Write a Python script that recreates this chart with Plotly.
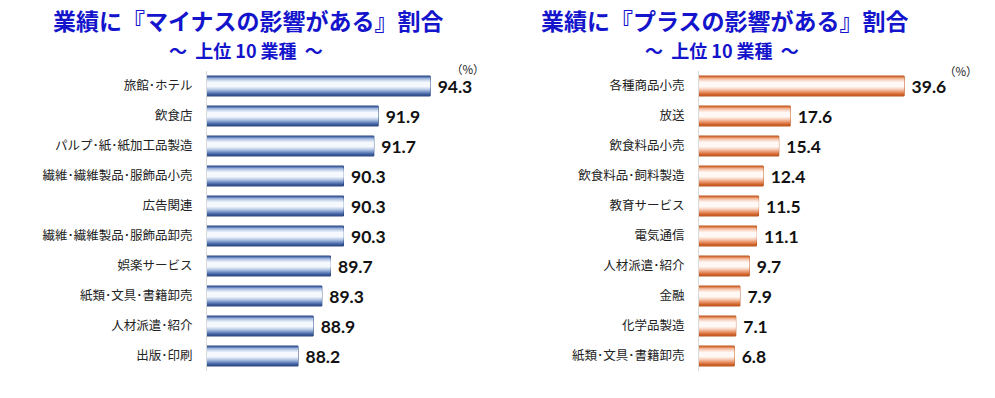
import plotly.graph_objects as go

minus_cats = ["旅館･ホテル", "飲食店", "パルプ･紙･紙加工品製造", "繊維･繊維製品･服飾品小売", "広告関連",
              "繊維･繊維製品･服飾品卸売", "娯楽サービス", "紙類･文具･書籍卸売", "人材派遣･紹介", "出版･印刷"]
minus_vals = [94.3, 91.9, 91.7, 90.3, 90.3, 90.3, 89.7, 89.3, 88.9, 88.2]

plus_cats = ["各種商品小売", "放送", "飲食料品小売", "飲食料品･飼料製造", "教育サービス",
             "電気通信", "人材派遣･紹介", "金融", "化学品製造", "紙類･文具･書籍卸売"]
plus_vals = [39.6, 17.6, 15.4, 12.4, 11.5, 11.1, 9.7, 7.9, 7.1, 6.8]

W, H = 995, 398
fig = go.Figure()

blue_layers = ["#3a5b98", "#6786be", "#9fb4da", "#cfdbef", "#f5f8fd"]
orange_layers = ["#d0622a", "#e48a5c", "#f0b495", "#f9dccd", "#fff8f4"]
widths = [0.667, 0.56, 0.45, 0.34, 0.2]
offs = [0, -0.03, -0.04, -0.05, -0.05]

VAL_FONT = dict(family="Lato, 'Open Sans', sans-serif", size=17.5, color="#111111")

def add_bars(cats, vals, layers, edge, xa, ya):
    for i, (c, w) in enumerate(zip(layers, widths)):
        fig.add_trace(go.Bar(
            y=cats, x=vals, orientation="h",
            width=w,
            offset=-w / 2 + offs[i],
            marker=dict(color=c, line=dict(color=edge if i == 0 else c, width=1 if i == 0 else 0)),
            text=[f"{v:.1f}" for v in vals] if i == 0 else None,
            texttemplate=" <b>%{text}</b>" if i == 0 else None,
            textposition="outside" if i == 0 else "none",
            textfont=VAL_FONT, constraintext="none", cliponaxis=False,
            xaxis=xa, yaxis=ya, showlegend=False, hoverinfo="x+y",
        ))

add_bars(minus_cats, minus_vals, blue_layers, "#2c4680", "x", "y")
add_bars(plus_cats, plus_vals, orange_layers, "#b8561f", "x2", "y2")

ytop = (H - 71) / H
ybot = (H - 371) / H

tickfont = dict(family="'Noto Sans CJK JP', sans-serif", size=12.5, color="#222222")

fig.update_layout(
    width=W, height=H,
    margin=dict(l=0, r=0, t=0, b=0),
    paper_bgcolor="white", plot_bgcolor="white",
    barmode="overlay",
    xaxis=dict(domain=[207 / W, 467 / W], range=[84, 96], visible=False, fixedrange=True),
    yaxis=dict(domain=[ybot, ytop], autorange="reversed", showline=True, linecolor="#d9d9d9",
               linewidth=1, showgrid=False, ticks="", ticklabelstandoff=11, tickfont=tickfont,
               anchor="x", fixedrange=True),
    xaxis2=dict(domain=[699 / W, 958 / W], range=[0, 50], visible=False, fixedrange=True, anchor="y2"),
    yaxis2=dict(domain=[ybot, ytop], autorange="reversed", showline=True, linecolor="#d9d9d9",
                linewidth=1, showgrid=False, ticks="", ticklabelstandoff=11, tickfont=tickfont,
                anchor="x2", fixedrange=True),
)

CJK = "'Noto Sans CJK JP', sans-serif"
title_font = dict(family=CJK, size=23, color="#1414cc")
sub_font = dict(family=CJK, size=18, color="#1414cc")
pct_font = dict(family=CJK, size=11.5, color="#222")
ann = [
    dict(text="<b>業績に『マイナスの影響がある』割合</b>", x=248 / W, y=1 - 19.5 / H, font=title_font),
    dict(text="<b>～  上位 10 業種  ～</b>", x=246 / W, y=1 - 49.5 / H, font=sub_font),
    dict(text="<b>業績に『プラスの影響がある』割合</b>", x=725 / W, y=1 - 19.5 / H, font=title_font),
    dict(text="<b>～  上位 10 業種  ～</b>", x=722 / W, y=1 - 49.5 / H, font=sub_font),
    dict(text="（%）", x=468 / W, y=1 - 69 / H, font=pct_font),
    dict(text="（%）", x=961 / W, y=1 - 71 / H, font=pct_font),
]
for a in ann:
    fig.add_annotation(xref="paper", yref="paper", xanchor="center", yanchor="middle",
                       showarrow=False, align="center", **a)

fig.write_html("out.html", config={"displayModeBar": False},
               post_script="document.body.style.margin='0';document.body.style.padding='0';")
